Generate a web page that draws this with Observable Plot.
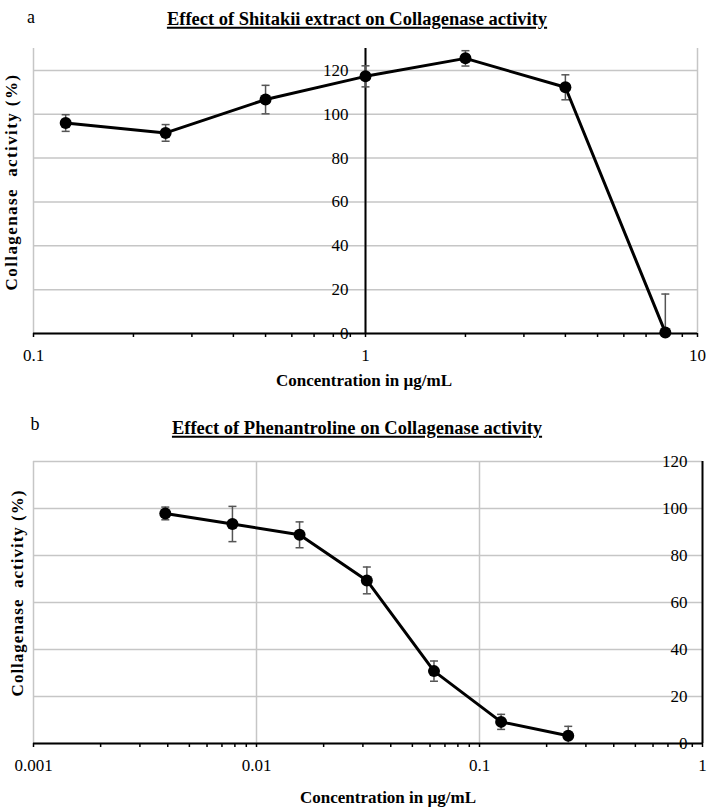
<!DOCTYPE html>
<html>
<head>
<meta charset="utf-8">
<script src="https://cdn.jsdelivr.net/npm/d3@7"></script>
<script src="https://cdn.jsdelivr.net/npm/@observablehq/plot@0.6"></script>
<style>
  html, body { margin: 0; padding: 0; background: #fff; }
  #wrap { position: relative; width: 709px; height: 809px; overflow: hidden; font-family: "Liberation Serif", "Times New Roman", "DejaVu Serif", serif; color: #000; }
  #wrap svg { position: absolute; left: 0; }
  .lbl { position: absolute; white-space: pre; line-height: 1; transform: translate(-50%, -50%); }
  .title { font-weight: bold; font-size: 18.5px; text-decoration: underline; text-decoration-thickness: 1.5px; text-underline-offset: 2px; }
  .axt { font-weight: bold; font-size: 17px; }
  .panel { font-size: 18px; }
  .rot { transform: translate(-50%, -50%) rotate(-90deg); }
</style>
</head>
<body>
<div id="wrap"></div>
<script>
// ---------- data ----------
const titleA = "Effect of Shitakii extract on Collagenase activity";
const titleB = "Effect of Phenantroline on Collagenase activity";
const xTitle = "Concentration in µg/mL";
const yTitle = "Collagenase  activity (%)";

const concA = [0.125, 0.25, 0.5, 1, 2, 4, 8];
const activityA = [96, 91.5, 106.7, 117.3, 125.5, 112.3, 0.5];
const errorA = [3.8, 3.8, 6.5, 4.8, 3.5, 5.7, 17.5];

const concB = [0.0039, 0.0078, 0.0156, 0.03125, 0.0625, 0.125, 0.25];
const activityB = [97.9, 93.4, 88.8, 69.4, 30.8, 9.2, 3.3];
const errorB = [2.7, 7.5, 5.5, 5.7, 4.3, 3.2, 4.0];

const yTicks = [0, 20, 40, 60, 80, 100, 120];
const yTickLabels = ["0", "20", "40", "60", "80", "100", "120"];
const decadesA = [0.1, 1, 10];
const decadeLabelsA = ["0.1", "1", "10"];
const decadesB = [0.001, 0.01, 0.1, 1];
const decadeLabelsB = ["0.001", "0.01", "0.1", "1"];
const yAxisCrossA = 1;   // y axis of panel a crosses at x = 1
const yMaxA = 130, yMaxB = 120;

// ---------- helpers ----------
const font = '"Liberation Serif", "Times New Roman", "DejaVu Serif", serif';
const gridColor = "#c6c6c6";
const errColor = "#555";

const capSymbol = { draw(ctx, size) { const r = Math.sqrt(size / Math.PI); ctx.moveTo(-r, 0); ctx.lineTo(r, 0); } };

function rows(conc, act, err) {
  return conc.map((c, i) => ({ c, v: act[i], lo: Math.max(0, act[i] - err[i]), hi: act[i] + err[i], loOk: act[i] - err[i] >= 0 }));
}
function allLogTicks(decades) {
  return decades.flatMap((d, i) => i < decades.length - 1 ? d3.range(1, 10).map(k => k * d) : [d]);
}
function fmt(decades, labels) {
  return t => { const i = decades.findIndex(d => Math.abs(d - t) < d * 1e-6); return i >= 0 ? labels[i] : ""; };
}
function seriesMarks(data) {
  return [
    Plot.ruleX(data, { x: "c", y1: "lo", y2: "hi", stroke: errColor, strokeWidth: 1.5 }),
    Plot.dot(data, { x: "c", y: "hi", symbol: capSymbol, r: 4, stroke: errColor, strokeWidth: 1.5, fill: "none" }),
    Plot.dot(data.filter(d => d.loOk), { x: "c", y: "lo", symbol: capSymbol, r: 4, stroke: errColor, strokeWidth: 1.5, fill: "none" }),
    Plot.line(data, { x: "c", y: "v", stroke: "black", strokeWidth: 3 }),
    Plot.dot(data, { x: "c", y: "v", r: 6, fill: "black" })
  ];
}

const wrap = document.getElementById("wrap");
function addLabel(text, cls, x, y, spacing) {
  const el = document.createElement("div");
  el.className = "lbl " + cls;
  el.textContent = text;
  el.style.left = x + "px";
  el.style.top = y + "px";
  if (spacing) el.style.letterSpacing = spacing + "px";
  wrap.appendChild(el);
}

// ---------- panel a ----------
const dataA = rows(concA, activityA, errorA);
const plotA = Plot.plot({
  width: 709, height: 390,
  marginLeft: 33, marginRight: 12, marginTop: 48, marginBottom: 57,
  style: { fontFamily: font, fontSize: "17px", color: "black", background: "none" },
  x: { type: "log", domain: [decadesA[0], decadesA[decadesA.length - 1]], axis: null },
  y: { domain: [0, yMaxA], axis: null },
  marks: [
    Plot.gridY(yTicks, { stroke: gridColor, strokeOpacity: 1, strokeWidth: 1.5 }),
    Plot.gridX(decadesA, { stroke: gridColor, strokeOpacity: 1, strokeWidth: 1.5 }),
    Plot.ruleX([yAxisCrossA], { stroke: "black", strokeWidth: 2 }),
    Plot.ruleY([0], { stroke: "black", strokeWidth: 2 }),
    Plot.axisX({ ticks: allLogTicks(decadesA), tickFormat: fmt(decadesA, decadeLabelsA), tickSize: 4, tickPadding: 11, color: "black", strokeWidth: 1.5, fontSize: 17, label: null }),
    Plot.text(yTicks, { x: () => yAxisCrossA, y: d => d, text: (d, i) => yTickLabels[i], textAnchor: "end", dx: -17, fontSize: 17, fill: "black" }),
    ...seriesMarks(dataA)
  ]
});
plotA.style.top = "0px";
wrap.appendChild(plotA);

// ---------- panel b ----------
const dataB = rows(concB, activityB, errorB);
const plotB = Plot.plot({
  width: 709, height: 409,
  marginLeft: 33, marginRight: 7, marginTop: 61, marginBottom: 66,
  style: { fontFamily: font, fontSize: "17px", color: "black", background: "none" },
  x: { type: "log", domain: [decadesB[0], decadesB[decadesB.length - 1]], axis: null },
  y: { domain: [0, yMaxB], axis: null },
  marks: [
    Plot.gridY(yTicks, { stroke: gridColor, strokeOpacity: 1, strokeWidth: 1.5 }),
    Plot.gridX(decadesB.slice(0, -1), { stroke: gridColor, strokeOpacity: 1, strokeWidth: 1.5 }),
    Plot.ruleX([decadesB[decadesB.length - 1]], { stroke: "black", strokeWidth: 2 }),
    Plot.ruleY([0], { stroke: "black", strokeWidth: 2 }),
    Plot.axisX({ ticks: allLogTicks(decadesB), tickFormat: fmt(decadesB, decadeLabelsB), tickSize: 4, tickPadding: 11, color: "black", strokeWidth: 1.5, fontSize: 17, label: null }),
    Plot.text(yTicks, { frameAnchor: "right", y: d => d, text: (d, i) => yTickLabels[i], textAnchor: "end", dx: -15, fontSize: 17, fill: "black" }),
    ...seriesMarks(dataB)
  ]
});
plotB.style.top = "400px";
wrap.appendChild(plotB);

// ---------- text ----------
addLabel("a", "panel", 31, 17);
addLabel(titleA, "title", 357, 19);
addLabel(xTitle, "axt", 364, 380);
addLabel(yTitle, "axt rot", 11, 182, 1.4);

addLabel("b", "panel", 35, 424);
addLabel(titleB, "title", 357, 428);
addLabel(xTitle, "axt", 388, 797);
addLabel(yTitle, "axt rot", 17, 593, 1.0);
</script>
</body>
</html>
